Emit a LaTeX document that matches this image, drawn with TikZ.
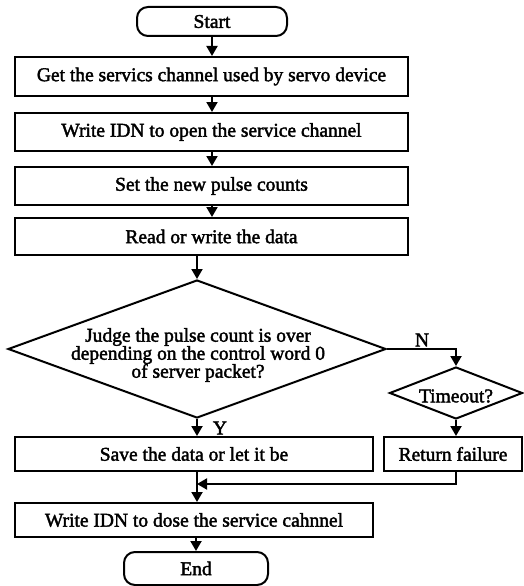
\documentclass[tikz,border=0pt]{standalone}
\usepackage{fontspec}
\setmainfont{Liberation Serif}[RawFeature={embolden=2}]
\usetikzlibrary{shapes.geometric,arrows.meta}
\begin{document}
\begin{tikzpicture}[x=1pt,y=1pt,
  font=\fontsize{19.5}{18}\selectfont,
  base/.style={draw, line width=2pt, inner sep=0pt, anchor=center},
  box/.style={base, rectangle},
  term/.style={base, rectangle, rounded corners=11pt},
  dia/.style={base, diamond},
  arr/.style={line width=2pt, -{Triangle[length=10pt,width=11pt]}}
]
\useasboundingbox (0,0) rectangle (524,-586);
\node[term, minimum width=150pt, minimum height=29pt] (start) at (212,-21.5) {Start};
\node[box, minimum width=393pt, minimum height=39pt] (b1) at (211.5,-76.5) {Get the servics channel used by servo device};
\node[box, minimum width=393pt, minimum height=38pt] (b2) at (211.5,-132) {Write IDN to open the service channel};
\node[box, minimum width=393pt, minimum height=38pt] (b3) at (211.5,-186) {Set the new pulse counts};
\node[box, minimum width=393pt, minimum height=37pt] (b4) at (211.5,-236.5) {Read or write the data};
\node[dia, minimum width=378pt, minimum height=138pt] (d1) at (197,-349) {};
\node[align=center, inner sep=0pt] (d1t) at (198,-355) {Judge the pulse count is over\\depending on the control word 0\\of server packet?};
\node[dia, minimum width=133pt, minimum height=52pt] (d2) at (456,-393) {};
\node[inner sep=0pt] (d2t) at (456,-396) {Timeout?};
\node[box, minimum width=358pt, minimum height=34pt] (save) at (194,-454) {Save the data or let it be};
\node[box, minimum width=138pt, minimum height=34pt] (fail) at (453,-454) {Return failure};
\node[box, minimum width=358pt, minimum height=34pt] (close) at (194,-520) {Write IDN to dose the service cahnnel};
\node[term, minimum width=144pt, minimum height=33pt] (end) at (196,-568.5) {End};
\node[inner sep=0pt] (N) at (422,-340) {N};
\node[inner sep=0pt] (Y) at (220,-428) {Y};
\coordinate (m) at (197,-484);
\draw[arr] (start.south) -- (b1.north -| start.south);
\draw[arr] (b1.south -| start.south) -- (b2.north -| start.south);
\draw[arr] (b2.south -| start.south) -- (b3.north -| start.south);
\draw[arr] (b3.south -| start.south) -- (b4.north -| start.south);
\draw[arr] (b4.south -| d1.north) -- (d1.north);
\draw[arr] (d1.east) -| (d2.north);
\draw[arr] (d1.south) -- (save.north -| d1.south);
\draw[arr] (d2.south) -- (fail.north -| d2.south);
\draw[arr] (fail.south -| d2.south) |- (m);
\draw[arr] (save.south -| m) -- (close.north -| m);
\draw[arr] (close.south -| end.north) -- (end.north);
\end{tikzpicture}
\end{document}
